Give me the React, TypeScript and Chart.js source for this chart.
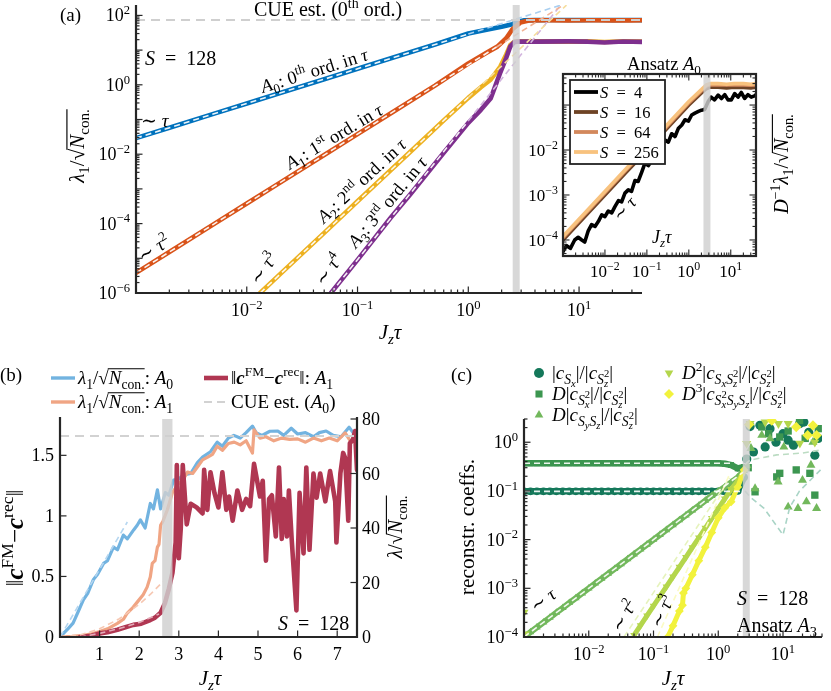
"use client"

import { useEffect, useRef } from "react"
import { Chart, registerables } from "chart.js"
import { drawPoint } from "chart.js/helpers"

Chart.register(...registerables)

const W = 831
const H = 691
const FONT = '"Liberation Serif", "DejaVu Serif", serif'
const AXIS = "#262626"
const BAND = [2.58, 2.84]

// ---------- panel (a): lambda_1 / sqrt(N_con) vs J_z tau ----------
const A_BLUE_X = [0.001, 0.002, 0.005, 0.01, 0.02, 0.05, 0.1, 0.2, 0.5, 1, 1.5, 2, 2.5, 2.8, 3.2, 4, 6, 10, 15, 20, 30, 37]
const A_BLUE_Y = [0.029, 0.058, 0.145, 0.29, 0.58, 1.45, 2.9, 5.8, 14.5, 30, 39, 47, 56, 66, 72, 73, 73.5, 73, 73.8, 73, 73.5, 73]
const A_RED_X = [0.001, 0.002, 0.005, 0.01, 0.02, 0.05, 0.1, 0.2, 0.5, 1, 1.5, 1.83, 2.2, 2.5, 2.95, 3.6, 5, 8, 12, 20, 30, 37]
const A_RED_Y = [3.8e-6, 1.52e-5, 9.5e-5, 3.8e-4, 1.52e-3, 9.5e-3, 0.038, 0.152, 0.95, 4.1, 8.8, 12.6, 22, 40, 62, 72, 72.5, 71.5, 72.5, 72, 71.8, 72.3]
const A_YEL_X = [0.0132, 0.02, 0.05, 0.1, 0.2, 0.3, 0.6, 1, 1.3, 1.59, 1.94, 2.2, 2.39, 2.6, 2.8, 4, 8, 12, 17, 25, 37]
const A_YEL_Y = [1e-6, 3.5e-6, 5.4e-5, 4.4e-4, 3.5e-3, 0.0118, 0.094, 0.42, 0.85, 1.4, 3.3, 7.5, 14, 17.5, 18, 17.8, 17.6, 17.9, 17.2, 17.8, 17.6]
const A_PUR_X = [0.0575, 0.1, 0.2, 0.3, 0.6, 1, 1.3, 1.59, 1.94, 2.2, 2.39, 2.6, 2.8, 4, 8, 12, 17, 25, 37]
const A_PUR_Y = [1e-6, 9e-6, 1.5e-4, 7e-4, 0.011, 0.08, 0.19, 0.4, 2.2, 6, 12.6, 17, 17.7, 17.6, 17.8, 17.5, 16.6, 17.7, 17.3]
// power-law fits: [start, end of white part, end of pale extension]
const A_FIT_BLUE_X = [0.001, 1, 6.9]
const A_FIT_BLUE_Y = [0.029, 29, 200]
const A_FIT_RED_X = [0.001, 1.8, 7.25]
const A_FIT_RED_Y = [3.8e-6, 12.3, 200]
const A_FIT_YEL_X = [0.0132, 1, 7.7]
const A_FIT_YEL_Y = [1e-6, 0.435, 198]
const A_FIT_PUR_X = [0.0575, 1, 6.8]
const A_FIT_PUR_Y = [1e-6, 0.0915, 196]
const A_CUE_X = [0.001, 37]
const A_CUE_Y = [74, 74]
const A_YEXP = [-6, -4, -2, 0, 2]
const A_XEXP = [-2, -1, 0, 1]

// ---------- inset: S dependence ----------
const IN_X = [0.001, 0.003, 0.01, 0.03, 0.1, 0.3, 1, 2, 2.6, 3.2, 5, 8, 12, 20, 30, 40]
const IN_S256 = [1.2e-4, 3.6e-4, 1.2e-3, 3.6e-3, 0.012, 0.036, 0.12, 0.22, 0.28, 0.3, 0.3, 0.29, 0.3, 0.3, 0.29, 0.3]
const IN_S64 = [1.12e-4, 3.35e-4, 1.12e-3, 3.35e-3, 0.0112, 0.0335, 0.112, 0.205, 0.265, 0.285, 0.28, 0.28, 0.285, 0.28, 0.275, 0.28]
const IN_S16 = [1.0e-4, 3.0e-4, 1.0e-3, 3.0e-3, 0.0098, 0.03, 0.1, 0.185, 0.23, 0.25, 0.25, 0.24, 0.25, 0.245, 0.24, 0.25]
const IN_S4_X = [0.001, 0.0012, 0.0015, 0.0019, 0.0023, 0.0028, 0.0033, 0.004, 0.0048, 0.0058, 0.007, 0.0084, 0.01, 0.012, 0.0145, 0.0173, 0.021, 0.025, 0.03, 0.036, 0.043, 0.052, 0.062, 0.075, 0.09, 0.108, 0.13, 0.156, 0.187, 0.225, 0.27, 0.325, 0.39, 0.47, 0.56, 0.68, 0.81, 0.98, 1.17, 1.4, 1.7, 2.0, 2.4, 2.9, 3.4, 4.1, 5, 6, 7.2, 8.6, 10.3, 12.4, 14.9, 17.8, 21.4, 25.7, 30.8, 37, 40]
const IN_S4_Y = [5.5e-5, 7.5e-5, 6.5e-5, 1.0e-4, 1.15e-4, 1.0e-4, 9e-5, 1.6e-4, 2.2e-4, 2.0e-4, 2.6e-4, 3.6e-4, 3.3e-4, 4.4e-4, 4.0e-4, 5.5e-4, 7.5e-4, 7.0e-4, 1.1e-3, 1.3e-3, 1.2e-3, 2.1e-3, 2.0e-3, 3.2e-3, 5.1e-3, 4.5e-3, 5.8e-3, 7.0e-3, 1.05e-2, 1.2e-2, 1.67e-2, 1.5e-2, 2.3e-2, 2.0e-2, 3.0e-2, 3.6e-2, 4.7e-2, 4.4e-2, 6.0e-2, 6.6e-2, 7.2e-2, 7.7e-2, 8.0e-2, 0.12, 0.15, 0.13, 0.166, 0.14, 0.17, 0.13, 0.13, 0.18, 0.15, 0.19, 0.14, 0.17, 0.15, 0.16, 0.17]
const IN_NAMES = ["4", "16", "64", "256"]
const IN_COLORS = ["#000000", "#6e4325", "#d3885c", "#f8c27e"]
const IN_YEXP = [-4, -3, -2]
const IN_XEXP = [-2, -1, 0, 1]

// ---------- panel (b): linear time axis ----------
const B_BLUE_X = [0, 0.1, 0.2, 0.33, 0.45, 0.59, 0.7, 0.84, 0.95, 1.1, 1.2, 1.35, 1.45, 1.6, 1.7, 1.86, 1.95, 2.03, 2.15, 2.28, 2.36, 2.46, 2.54, 2.66, 2.75, 2.87, 3.0, 3.12, 3.3, 3.47, 3.6, 3.8, 3.97, 4.1, 4.25, 4.39, 4.55, 4.7, 4.86, 4.95, 5.1, 5.3, 5.5, 5.65, 5.84, 6.0, 6.2, 6.4, 6.55, 6.72, 6.9, 7.1, 7.3, 7.45, 7.5]
const B_BLUE_Y = [0, 1.5, 3, 5.1, 9, 13.6, 16, 21, 23, 27, 28, 33, 32, 37.4, 36, 39.3, 41, 43, 40, 49, 47, 54, 47, 53, 52, 57.6, 58, 59.5, 60, 64, 66, 68, 71.5, 70, 73, 74, 73, 75, 77.4, 75, 74, 75.5, 75.6, 74, 76.6, 74.5, 75, 73.5, 75, 75.6, 74, 73.5, 77, 74, 75]
const B_ORG_X = [0, 0.3, 0.6, 0.8, 1.0, 1.2, 1.45, 1.6, 1.7, 1.85, 1.95, 2.1, 2.2, 2.28, 2.33, 2.4, 2.46, 2.5, 2.54, 2.6, 2.71, 2.84, 3.0, 3.1, 3.22, 3.35, 3.47, 3.6, 3.73, 3.85, 3.97, 4.1, 4.25, 4.4, 4.55, 4.7, 4.86, 4.9, 5.05, 5.2, 5.4, 5.6, 5.8, 6.0, 6.2, 6.4, 6.6, 6.8, 7.0, 7.2, 7.35, 7.5]
const B_ORG_Y = [0, 0.2, 0.6, 1.2, 2, 3, 5, 6.5, 8.8, 11, 12.8, 15.5, 18.3, 22, 27, 28, 33, 34, 41, 42.5, 46.6, 53, 56.5, 57.5, 60.5, 60, 62.4, 65, 66, 67, 70, 68.5, 71, 71.5, 70.5, 72, 67.5, 76, 73, 73.5, 72, 73, 72.5, 72.7, 71.5, 73, 72, 73, 72, 74.9, 71.5, 72.7]
const B_ERR_X = [0.5, 0.8, 1.0, 1.2, 1.45, 1.65, 1.85, 2.05, 2.28, 2.4, 2.54, 2.65, 2.75, 2.84, 2.92, 2.95, 3.0, 3.05, 3.1, 3.2, 3.3, 3.45, 3.6, 3.64, 3.72, 3.8, 3.9, 4.0, 4.1, 4.2, 4.27, 4.36, 4.48, 4.6, 4.7, 4.8, 4.9, 5.05, 5.12, 5.2, 5.28, 5.35, 5.45, 5.53, 5.6, 5.65, 5.73, 5.78, 5.85, 5.97, 6.05, 6.15, 6.22, 6.3, 6.4, 6.48, 6.57, 6.7, 6.82, 6.95, 6.98, 7.08, 7.15, 7.2, 7.28, 7.32, 7.4, 7.45, 7.5]
const B_ERR_Y = [0, 0.01, 0.03, 0.04, 0.06, 0.08, 0.1, 0.11, 0.14, 0.16, 0.2, 0.28, 0.4, 0.53, 0.78, 1.42, 0.65, 0.9, 1.42, 0.93, 1.1, 1.07, 1.02, 1.38, 1.05, 1.36, 1.19, 1.07, 1.36, 1.05, 1.16, 0.96, 1.21, 1.05, 1.14, 1.08, 1.43, 1.16, 1.29, 0.63, 1.14, 1.17, 0.83, 1.4, 0.81, 1.14, 0.83, 1.21, 0.81, 0.22, 1.19, 0.69, 1.4, 0.72, 1.35, 1.15, 1.35, 1.12, 1.37, 1.12, 0.78, 1.35, 1.52, 1.48, 0.96, 1.6, 1.63, 1.7, 1.38]
const B_FIT_BLUE_X = [0, 1.7]
const B_FIT_BLUE_Y = [0, 42.2]
const B_FIT_ORG_X = [0, 0.5, 1, 1.5, 2, 2.3, 2.6]
const B_FIT_ORG_Y = [0, 0.75, 3, 6.7, 12, 15.9, 20.3]
const B_FIT_ERR_X = [0.5, 1, 1.5, 2, 2.5]
const B_FIT_ERR_Y = [0, 0.03, 0.07, 0.12, 0.19]
const B_CUE_X = [0, 7.5]
const B_CUE_Y = [73.8, 73.8]
const B_LTICKS = [0, 0.5, 1, 1.5]
const B_RTICKS = [0, 20, 40, 60, 80]
const B_XTICKS = [1, 2, 3, 4, 5, 6, 7]

// ---------- panel (c): reconstructed coefficients ----------
const C_GRID = [0.001, 0.00126, 0.00158, 0.002, 0.00251, 0.00316, 0.00398, 0.00501, 0.00631, 0.00794, 0.01, 0.0126, 0.0158, 0.02, 0.0251, 0.0316, 0.0398, 0.0501, 0.0631, 0.0794, 0.1, 0.126, 0.158, 0.2, 0.251, 0.316, 0.398, 0.501, 0.631, 0.794, 1, 1.26, 1.58, 2, 2.51]
const C_SX_Y = [0.098, 0.098, 0.098, 0.098, 0.098, 0.098, 0.098, 0.098, 0.098, 0.098, 0.098, 0.098, 0.098, 0.098, 0.098, 0.098, 0.098, 0.098, 0.098, 0.098, 0.098, 0.098, 0.098, 0.098, 0.098, 0.098, 0.098, 0.098, 0.098, 0.098, 0.098, 0.097, 0.096, 0.1, 0.19]
const C_SX2_Y = [0.37, 0.37, 0.37, 0.37, 0.37, 0.37, 0.37, 0.37, 0.37, 0.37, 0.37, 0.37, 0.37, 0.37, 0.37, 0.37, 0.37, 0.37, 0.37, 0.37, 0.37, 0.37, 0.37, 0.37, 0.37, 0.37, 0.37, 0.37, 0.37, 0.37, 0.37, 0.36, 0.34, 0.29, 0.31]
const C_SYSZ_Y = [1e-4, 1.26e-4, 1.58e-4, 2e-4, 2.51e-4, 3.16e-4, 3.98e-4, 5.01e-4, 6.31e-4, 7.94e-4, 1e-3, 1.26e-3, 1.58e-3, 2e-3, 2.51e-3, 3.16e-3, 3.98e-3, 5.01e-3, 6.31e-3, 7.94e-3, 0.01, 0.0126, 0.0158, 0.02, 0.0251, 0.0316, 0.0398, 0.0501, 0.0631, 0.0794, 0.098, 0.12, 0.15, 0.19, 0.26]
const C_D2_X = [0.0501, 0.0631, 0.0794, 0.1, 0.126, 0.158, 0.2, 0.251, 0.316, 0.398, 0.501, 0.631, 0.794, 1, 1.26, 1.58, 2, 2.51]
const C_D2_Y = [1.09e-4, 1.73e-4, 2.74e-4, 4.34e-4, 6.9e-4, 1.08e-3, 1.74e-3, 2.73e-3, 4.33e-3, 6.9e-3, 0.0109, 0.0173, 0.0274, 0.0434, 0.069, 0.108, 0.16, 0.25]
const C_D3_X = [0.166, 0.2, 0.251, 0.28, 0.29, 0.316, 0.398, 0.501, 0.631, 0.794, 1, 1.26, 1.58, 2, 2.51]
const C_D3_Y = [1e-4, 1.7e-4, 3.4e-4, 4.5e-4, 8e-4, 1e-3, 1.9e-3, 3.7e-3, 7e-3, 0.014, 0.028, 0.045, 0.06, 0.12, 0.27]
// scattered values after the band
const C_SX_PX = [2.75, 3.1, 3.5, 4.4, 5.3, 6.3, 7.8, 10, 12, 14.5, 18, 21, 25, 31, 35]
const C_SX_PY = [0.45, 2.1, 0.63, 2.23, 0.8, 1.9, 1.0, 1.5, 1.1, 0.87, 2.4, 2.6, 1.6, 0.54, 1.2]
const C_SX2_PX = [2.9, 3.7, 4.7, 6, 8, 8.9, 8.9, 12, 16, 18, 22, 26, 31, 35]
const C_SX2_PY = [0.3, 0.096, 2.06, 1.5, 0.194, 1.28, 0.23, 1.7, 0.27, 2.8, 1.2, 0.23, 0.082, 1.9]
const C_SYSZ_PX = [2.8, 3.2, 3.7, 4.7, 6.3, 8.4, 10.3, 12, 17, 20, 23, 27, 29, 33]
const C_SYSZ_PY = [0.33, 0.75, 0.112, 1.39, 1.19, 0.154, 0.8, 0.047, 0.044, 0.166, 0.06, 0.34, 1.0, 0.044]
const C_D2_PX = [0.001, 0.00105, 2.75, 3.1, 5.3, 8.5, 12, 18.2, 31]
const C_D2_PY = [3.2e-4, 1.15e-4, 0.94, 2.4, 2.6, 2.4, 2.4, 0.95, 1.0]
const C_D3_PX = [3.0, 6.7, 16, 24, 29, 33]
const C_D3_PY = [2.3, 2.8, 2.06, 1.39, 2.2, 1.39]
// fits
const C_FIT_SX_X = [0.001, 2.3]
const C_FIT_SX_Y = [0.098, 0.098]
const C_FIT_SX2_X = [0.001, 1.6]
const C_FIT_SX2_Y = [0.37, 0.37]
const C_FIT_T1_X = [0.001, 2.5]
const C_FIT_T1_Y = [1e-4, 0.25]
const C_FIT_T2_X = [0.035, 1.5]
const C_FIT_T2_Y = [1e-4, 0.184]
const C_FIT_T3_X = [0.115, 1.5]
const C_FIT_T3_Y = [1e-4, 0.222]
const C_PALE1_X = [2.6, 3.1, 5.1, 10, 12.7, 18, 38]
const C_PALE1_Y = [0.1, 0.075, 0.044, 0.0125, 0.046, 0.1, 0.27]
const C_PALE2_X = [2.6, 3.1, 8, 20, 38]
const C_PALE2_Y = [0.35, 0.43, 0.55, 0.6, 0.69]
const C_COLORS = ["#14785a", "#3c9650", "#72b85c", "#b4d64c", "#f2f23c"]
const C_STYLES = ["circle", "rect", "triangle", "triangle", "rectRot"]
const C_ROT = [0, 0, 0, 180, 0]
const C_YEXP = [-4, -3, -2, -1, 0]
const C_XEXP = [-2, -1, 0, 1]

// ---------- small rich-text renderer (sub/superscripts, overline) ----------
type Run = [string, string?]
const LV: Record<string, [number, number]> = {
  "": [1, 0],
  "^": [0.7, -0.4],
  "_": [0.72, 0.24],
  "=": [0.56, 0.4],
  "~": [0.56, -0.08],
}

function rich(ctx: CanvasRenderingContext2D, runs: Run[], x: number, y: number, size: number, align = "left", rot = 0, mid = false) {
  const items: any[] = []
  let cx = 0
  let ps = 0
  let pw = 0
  for (const [t, f = ""] of runs) {
    const lv = f.includes("^") ? "^" : f.includes("_") ? "_" : f.includes("=") ? "=" : f.includes("~") ? "~" : ""
    const [sc, dy] = LV[lv]
    const font = `${f.includes("i") ? "italic " : ""}${f.includes("B") ? "bold " : ""}${(size * sc).toFixed(1)}px ${FONT}`
    ctx.font = font
    const w = ctx.measureText(t).width
    const stack = f.includes("!")
    const sx = stack ? ps : cx
    items.push({ t, font, x: sx, dy: dy * size, w, over: f.includes("o") })
    if (stack) {
      cx = ps + Math.max(pw, w)
    } else {
      ps = sx
      pw = w
      cx = sx + w
    }
  }
  const off = align === "center" ? -cx / 2 : align === "right" ? -cx : 0
  ctx.save()
  ctx.translate(x, y)
  if (rot) ctx.rotate((rot * Math.PI) / 180)
  const by = mid ? size * 0.32 : 0
  ctx.fillStyle = "#000"
  ctx.strokeStyle = "#000"
  ctx.textAlign = "left"
  ctx.textBaseline = "alphabetic"
  let o0 = Infinity
  let o1 = -Infinity
  for (const it of items) {
    ctx.font = it.font
    ctx.fillText(it.t, off + it.x, by + it.dy)
    if (it.over) {
      o0 = Math.min(o0, off + it.x)
      o1 = Math.max(o1, off + it.x + it.w)
    }
  }
  if (o1 > o0) {
    ctx.lineWidth = Math.max(1, size * 0.055)
    ctx.beginPath()
    ctx.moveTo(o0 - 1, by - size * 0.8)
    ctx.lineTo(o1, by - size * 0.8)
    ctx.stroke()
  }
  ctx.restore()
}

const pow10 = (e: number): Run[] => [["10"], [e < 0 ? "\u2212" + -e : String(e), "^"]]
const SQN: Run[] = [["/\u221A"], ["N", "io"], ["con.", "_o"]]
const LAM1: Run[] = [["\u03BB", "i"], ["1", "_"], ...SQN]
const NORM: Run[] = [["\u2016"], ["c", "iB"], ["FM", "^"], ["\u2212"], ["c", "iB"], ["rec", "^"], ["\u2016"]]
const JZT: Run[] = [["J", "i"], ["z", "i_"], ["\u03C4", "i"]]
const cal = (s: string): Run => [s, "i"]
const SZ2: Run[] = [["|/|"], ["c", "i"], ["S", "i_"], ["z", "i="], ["2", "~!"], ["|"]]
const sRuns = (n: string): Run[] => [["S", "i"], ["\u2002=\u2002" + n]]
const ord = (k: string, sup: string): Run[] => [cal("A"), [k, "_"], [": " + k], [sup, "^"], [" ord. in "], ["\u03C4", "i"]]
const tauPow = (p: string): Run[] => (p ? [["\u223C "], ["\u03C4", "i"], [p, "^"]] : [["\u223C "], ["\u03C4", "i"]])

// ---------- drawing helpers ----------
function seg(ctx: CanvasRenderingContext2D, x1: number, y1: number, x2: number, y2: number) {
  ctx.beginPath()
  ctx.moveTo(x1, y1)
  ctx.lineTo(x2, y2)
  ctx.stroke()
}

function logTicks(ctx: CanvasRenderingContext2D, scale: any, horiz: boolean, base: number, dir: number) {
  const min = scale.min
  const max = scale.max
  for (let k = Math.floor(Math.log10(min)); k <= Math.ceil(Math.log10(max)); k++) {
    for (let m = 1; m <= 9; m++) {
      const v = m * Math.pow(10, k)
      if (v < min * 0.9999 || v > max * 1.0001) continue
      const p = scale.getPixelForValue(v)
      const len = m === 1 ? 6.5 : 3.5
      if (horiz) seg(ctx, p, base, p, base + dir * len)
      else seg(ctx, base, p, base + dir * len, p)
    }
  }
}

function linTicks(ctx: CanvasRenderingContext2D, scale: any, vals: number[], horiz: boolean, base: number, dir: number) {
  for (const v of vals) {
    const p = scale.getPixelForValue(v)
    if (horiz) seg(ctx, p, base, p, base + dir * 6.5)
    else seg(ctx, base, p, base + dir * 6.5, p)
  }
}

function drawBand(chart: any) {
  const { ctx, chartArea: ca, scales } = chart
  const a = scales.x.getPixelForValue(BAND[0])
  const b = scales.x.getPixelForValue(BAND[1])
  const c = (a + b) / 2
  const w = Math.max(b - a, 7)
  ctx.save()
  ctx.fillStyle = "rgba(208,208,208,0.82)"
  ctx.fillRect(c - w / 2, ca.top, w, ca.bottom - ca.top)
  ctx.restore()
}

const xy = (xs: number[], ys: number[]) => xs.map((x, i) => ({ x, y: ys[i] }))

function ln(xs: number[], ys: number[], color: string, width: number, order: number, extra: any = {}) {
  return {
    data: xy(xs, ys),
    borderColor: color,
    borderWidth: width,
    pointRadius: 0,
    fill: false,
    tension: 0,
    order,
    borderJoinStyle: "round",
    borderCapStyle: "round",
    ...extra,
  }
}

function dash(xs: number[], ys: number[], color: string, width: number, order: number, d = [6, 4], extra: any = {}) {
  return ln(xs, ys, color, width, order, { borderDash: d, borderCapStyle: "butt", ...extra })
}

function marks(xs: number[], ys: number[], idx: number, order: number, line = 0, r = 3.6) {
  return {
    data: xy(xs, ys),
    showLine: line > 0,
    borderColor: C_COLORS[idx],
    borderWidth: line,
    pointRadius: r,
    pointStyle: C_STYLES[idx],
    pointRotation: C_ROT[idx],
    pointBackgroundColor: C_COLORS[idx],
    pointBorderColor: C_COLORS[idx],
    pointBorderWidth: 0,
    fill: false,
    tension: 0,
    order,
  }
}

function base(area: any, scales: any, datasets: any[], plugin: any) {
  return {
    type: "line",
    data: { datasets },
    options: {
      responsive: false,
      animation: false,
      events: [],
      layout: { padding: { left: area.l, top: area.t, right: W - area.r, bottom: H - area.b } },
      plugins: { legend: { display: false }, tooltip: { enabled: false } },
      scales,
    },
    plugins: [plugin],
  }
}

const logAxis = (min: number, max: number) => ({ type: "logarithmic", min, max, display: false, bounds: "data" })
const linAxis = (min: number, max: number, extra: any = {}) => ({ type: "linear", min, max, display: false, bounds: "data", ...extra })

// ---------- panel (a) ----------
function configA() {
  const WHITE = "rgba(255,255,255,0.92)"
  const datasets = [
    dash(A_CUE_X, A_CUE_Y, "#cfcfcf", 2, 0, [9, 6]),
    dash(A_FIT_BLUE_X.slice(0, 2), A_FIT_BLUE_Y.slice(0, 2), WHITE, 1.6, 1),
    dash(A_FIT_RED_X.slice(0, 2), A_FIT_RED_Y.slice(0, 2), WHITE, 1.6, 1),
    dash(A_FIT_YEL_X.slice(0, 2), A_FIT_YEL_Y.slice(0, 2), WHITE, 1.6, 1),
    dash(A_FIT_PUR_X.slice(0, 2), A_FIT_PUR_Y.slice(0, 2), WHITE, 1.6, 1),
    dash(A_FIT_BLUE_X.slice(1), A_FIT_BLUE_Y.slice(1), "#a9cff0", 1.6, 1),
    dash(A_FIT_RED_X.slice(1), A_FIT_RED_Y.slice(1), "#f2b496", 1.6, 1),
    dash(A_FIT_YEL_X.slice(1), A_FIT_YEL_Y.slice(1), "#f6de9e", 1.6, 1),
    dash(A_FIT_PUR_X.slice(1), A_FIT_PUR_Y.slice(1), "#d2b4de", 1.6, 1),
    ln(A_PUR_X, A_PUR_Y, "#7e2f8e", 4.6, 2),
    ln(A_YEL_X, A_YEL_Y, "#edb120", 4.6, 3),
    ln(A_RED_X, A_RED_Y, "#d95319", 4.6, 4),
    ln(A_BLUE_X, A_BLUE_Y, "#0072bd", 4.6, 5),
  ]
  const plugin = {
    id: "decoA",
    afterDatasetsDraw: drawBand,
    afterDraw(chart: any) {
      const { ctx, chartArea: ca, scales } = chart
      const { x, y } = scales
      ctx.save()
      ctx.strokeStyle = AXIS
      ctx.lineWidth = 2.2
      seg(ctx, ca.left, ca.top, ca.left, ca.bottom + 1)
      seg(ctx, ca.left - 1, ca.bottom, ca.right, ca.bottom)
      ctx.lineWidth = 1.2
      logTicks(ctx, y, false, ca.left, 1)
      logTicks(ctx, x, true, ca.bottom, -1)
      ctx.restore()
      for (const e of A_YEXP) rich(ctx, pow10(e), ca.left - 6, y.getPixelForValue(Math.pow(10, e)) + 6, 18, "right")
      for (const e of A_XEXP) rich(ctx, pow10(e), x.getPixelForValue(Math.pow(10, e)), ca.bottom + 23, 18, "center")
      rich(ctx, [["(a)"]], 60, 21, 19)
      rich(ctx, [["CUE est. (0"], ["th", "^"], [" ord.)"]], 328, 16, 20, "center")
      rich(ctx, sRuns("128"), 145, 65, 20)
      rich(ctx, tauPow(""), 141, 127, 19)
      rich(ctx, ord("0", "th"), 263, 93, 18.5, "left", -17.4)
      rich(ctx, ord("1", "st"), 290, 170, 18.5, "left", -31)
      rich(ctx, ord("2", "nd"), 324, 224, 18.5, "left", -43)
      rich(ctx, ord("3", "rd"), 356, 249, 18.5, "left", -50)
      rich(ctx, tauPow("2"), 143, 263, 19, "left", -33)
      rich(ctx, tauPow("3"), 259, 286, 19, "left", -55)
      rich(ctx, tauPow("4"), 324, 287, 19, "left", -55)
      rich(ctx, [["\u03BB", "i"], ["1", "_"], ...SQN], 77, 146, 21, "center", -90, true)
      rich(ctx, JZT, 390, 339, 21, "center")
    },
  }
  return base({ l: 136, t: 5, r: 642, b: 293 }, { x: logAxis(1e-3, 37), y: logAxis(1e-6, 199.5) }, datasets, plugin)
}

// ---------- inset ----------
function configInset() {
  const datasets = [
    ln(IN_X, IN_S256, IN_COLORS[3], 3.6, 0),
    ln(IN_X, IN_S64, IN_COLORS[2], 3.6, 1),
    ln(IN_X, IN_S16, IN_COLORS[1], 3.6, 2),
    ln(IN_S4_X, IN_S4_Y, IN_COLORS[0], 3.6, 3),
  ]
  const plugin = {
    id: "decoIn",
    beforeDatasetsDraw(chart: any) {
      const { ctx, chartArea: ca } = chart
      ctx.save()
      ctx.fillStyle = "#fff"
      ctx.fillRect(ca.left, ca.top, ca.right - ca.left, ca.bottom - ca.top)
      ctx.restore()
    },
    afterDatasetsDraw: drawBand,
    afterDraw(chart: any) {
      const { ctx, chartArea: ca, scales } = chart
      const { x, y } = scales
      ctx.save()
      ctx.strokeStyle = AXIS
      ctx.lineWidth = 1.1
      logTicks(ctx, y, false, ca.left, 1)
      logTicks(ctx, y, false, ca.right, -1)
      logTicks(ctx, x, true, ca.bottom, -1)
      logTicks(ctx, x, true, ca.top, 1)
      ctx.lineWidth = 2.2
      ctx.strokeRect(ca.left, ca.top, ca.right - ca.left, ca.bottom - ca.top)
      // legend
      const lx = 570
      const ly = 80
      ctx.fillStyle = "#fff"
      ctx.fillRect(lx, ly, 95, 84)
      ctx.lineWidth = 1.8
      ctx.strokeStyle = "#222"
      ctx.strokeRect(lx, ly, 95, 84)
      IN_NAMES.forEach((_, i) => {
        ctx.strokeStyle = IN_COLORS[i]
        ctx.lineWidth = 3.8
        seg(ctx, lx + 4, ly + 12 + i * 20, lx + 28, ly + 12 + i * 20)
      })
      ctx.restore()
      IN_NAMES.forEach((n, i) => rich(ctx, sRuns(n), lx + 30, ly + 18 + i * 20, 16.5))
      for (const e of IN_YEXP) rich(ctx, pow10(e), ca.left - 5, y.getPixelForValue(Math.pow(10, e)) + 6, 17, "right")
      for (const e of IN_XEXP) rich(ctx, pow10(e), x.getPixelForValue(Math.pow(10, e)), ca.bottom + 21, 17, "center")
      rich(ctx, [["Ansatz "], cal("A"), ["0", "_"]], 664, 70, 18.5, "center")
      rich(ctx, tauPow(""), 620, 222, 17.5, "left", -47)
      rich(ctx, JZT, 652, 243, 18)
      rich(ctx, [cal("D"), ["\u22121", "^"], ...LAM1], 782, 164, 20, "center", -90, true)
    },
  }
  return base({ l: 563, t: 74, r: 756, b: 256 }, { x: logAxis(1e-3, 40), y: logAxis(4.4e-5, 0.49) }, datasets, plugin)
}

// ---------- panel (b) ----------
function configB() {
  const BLUE = "#72b3e0"
  const ORG = "#f0a584"
  const ERR = "#b03752"
  const datasets = [
    dash(B_CUE_X, B_CUE_Y, "#d2d2d2", 2, 0, [9, 6], { yAxisID: "y2" }),
    dash(B_FIT_BLUE_X, B_FIT_BLUE_Y, "#b5d6f0", 1.6, 1, [6, 4], { yAxisID: "y2" }),
    dash(B_FIT_ORG_X, B_FIT_ORG_Y, "#f6c7b2", 1.6, 1, [6, 4], { yAxisID: "y2" }),
    dash(B_FIT_ERR_X, B_FIT_ERR_Y, "#e3aab7", 1.6, 1, [6, 4], { yAxisID: "y" }),
    ln(B_ERR_X, B_ERR_Y, ERR, 4.6, 2, { yAxisID: "y" }),
    ln(B_ORG_X, B_ORG_Y, ORG, 3.2, 3, { yAxisID: "y2" }),
    ln(B_BLUE_X, B_BLUE_Y, BLUE, 3.2, 4, { yAxisID: "y2" }),
  ]
  const plugin = {
    id: "decoB",
    afterDatasetsDraw: drawBand,
    afterDraw(chart: any) {
      const { ctx, chartArea: ca, scales } = chart
      const { x, y, y2 } = scales
      ctx.save()
      ctx.strokeStyle = AXIS
      ctx.lineWidth = 2.2
      seg(ctx, ca.left, ca.top - 2, ca.left, ca.bottom + 1)
      seg(ctx, ca.right, ca.top - 2, ca.right, ca.bottom + 1)
      seg(ctx, ca.left - 1, ca.bottom, ca.right + 1, ca.bottom)
      ctx.lineWidth = 1.2
      linTicks(ctx, y, B_LTICKS, false, ca.left, 1)
      linTicks(ctx, y2, B_RTICKS, false, ca.right, -1)
      linTicks(ctx, x, B_XTICKS, true, ca.bottom, -1)
      // legend samples
      ctx.lineCap = "butt"
      ctx.lineWidth = 3.4
      ctx.strokeStyle = BLUE
      seg(ctx, 51, 378, 75, 378)
      ctx.strokeStyle = ORG
      seg(ctx, 51, 402, 75, 402)
      ctx.lineWidth = 4.6
      ctx.strokeStyle = ERR
      seg(ctx, 204, 378, 228, 378)
      ctx.lineWidth = 2
      ctx.strokeStyle = "#d2d2d2"
      ctx.setLineDash([8, 5])
      seg(ctx, 204, 402, 228, 402)
      ctx.setLineDash([])
      ctx.restore()
      for (const v of B_LTICKS) rich(ctx, [[String(v)]], ca.left - 6, y.getPixelForValue(v) + 6, 18, "right")
      for (const v of B_RTICKS) rich(ctx, [[String(v)]], ca.right + 5, y2.getPixelForValue(v) + 6, 18)
      for (const v of B_XTICKS) rich(ctx, [[String(v)]], x.getPixelForValue(v), ca.bottom + 23, 18, "center")
      rich(ctx, [...LAM1, [": "], cal("A"), ["0", "_"]], 78, 384, 19)
      rich(ctx, [...LAM1, [": "], cal("A"), ["1", "_"]], 78, 408, 19)
      rich(ctx, [...NORM, [": "], cal("A"), ["1", "_"]], 231, 384, 19)
      rich(ctx, [["CUE est. ("], cal("A"), ["0", "_"], [")"]], 231, 408, 19)
      rich(ctx, [["(b)"]], 0, 381, 19)
      rich(ctx, sRuns("128"), 278, 630, 20)
      rich(ctx, NORM, 15, 538, 25, "center", -90, true)
      rich(ctx, [["\u03BB", "i"], ...SQN], 396, 527, 20, "center", -90, true)
      rich(ctx, JZT, 210, 685, 21, "center")
    },
  }
  return base(
    { l: 60, t: 419, r: 357, b: 637 },
    { x: linAxis(0, 7.5), y: linAxis(0, 1.8), y2: linAxis(0, 80, { position: "right" }) },
    datasets,
    plugin,
  )
}

// ---------- panel (c) ----------
function configC() {
  const WHITE = "rgba(255,255,255,0.9)"
  const datasets = [
    dash(C_FIT_SX_X, C_FIT_SX_Y, WHITE, 1.6, 0),
    dash(C_FIT_SX2_X, C_FIT_SX2_Y, WHITE, 1.6, 0),
    dash(C_FIT_T1_X, C_FIT_T1_Y, WHITE, 1.6, 0),
    dash(C_FIT_T2_X, C_FIT_T2_Y, "#e6f3bd", 1.6, 0),
    dash(C_FIT_T3_X, C_FIT_T3_Y, "#fbfbc4", 1.6, 0),
    dash(C_PALE1_X, C_PALE1_Y, "#a9d4c6", 1.6, 0),
    dash(C_PALE2_X, C_PALE2_Y, "#bcdcc3", 1.6, 0),
    marks(C_D3_PX, C_D3_PY, 4, 1, 0, 5.2),
    marks(C_D3_X, C_D3_Y, 4, 1, 5, 4.4),
    marks(C_D2_PX, C_D2_PY, 3, 2, 0, 5.2),
    marks(C_D2_X, C_D2_Y, 3, 2, 5, 4.4),
    marks(C_SYSZ_PX, C_SYSZ_PY, 2, 3, 0, 5.2),
    marks(C_GRID, C_SYSZ_Y, 2, 3, 6, 4.4),
    marks(C_SX2_PX, C_SX2_PY, 1, 4, 0, 5.2),
    marks(C_GRID, C_SX2_Y, 1, 4, 6.5, 4.2),
    marks(C_SX_PX, C_SX_PY, 0, 5, 0, 4.6),
    marks(C_GRID, C_SX_Y, 0, 5, 6.5, 3.8),
  ]
  const plugin = {
    id: "decoC",
    afterDatasetsDraw: drawBand,
    afterDraw(chart: any) {
      const { ctx, chartArea: ca, scales } = chart
      const { x, y } = scales
      ctx.save()
      ctx.strokeStyle = AXIS
      ctx.lineWidth = 2.2
      seg(ctx, ca.left, ca.top, ca.left, ca.bottom + 1)
      seg(ctx, ca.left - 1, ca.bottom, ca.right, ca.bottom)
      ctx.lineWidth = 1.2
      logTicks(ctx, y, false, ca.left, 1)
      logTicks(ctx, x, true, ca.bottom, -1)
      // legend markers
      const pos = [
        [539, 373],
        [539, 394],
        [539, 415],
        [669, 373],
        [669, 394],
      ]
      pos.forEach(([px, py], i) => {
        ctx.fillStyle = C_COLORS[i]
        ctx.strokeStyle = C_COLORS[i]
        drawPoint(ctx, { pointStyle: C_STYLES[i], rotation: C_ROT[i], radius: 5, borderWidth: 0 } as any, px, py)
      })
      ctx.restore()
      for (const e of C_YEXP) rich(ctx, pow10(e), ca.left - 6, y.getPixelForValue(Math.pow(10, e)) + 6, 18, "right")
      for (const e of C_XEXP) rich(ctx, pow10(e), x.getPixelForValue(Math.pow(10, e)), ca.bottom + 23, 18, "center")
      const c = (s: Run[]): Run[] => [["c", "i"], ...s]
      const L: Run[][] = [
        [["|"], ...c([["S", "i_"], ["x", "i="]]), ...SZ2],
        [cal("D"), ["|"], ...c([["S", "i_"], ["x", "i="], ["2", "~!"]]), ...SZ2],
        [cal("D"), ["|"], ...c([["S", "i_"], ["y", "i="], ["S", "i_"], ["z", "i="]]), ...SZ2],
        [cal("D"), ["2", "^"], ["|"], ...c([["S", "i_"], ["x", "i="], ["S", "i_"], ["z", "i="], ["2", "~!"]]), ...SZ2],
        [cal("D"), ["3", "^"], ["|"], ...c([["S", "i_"], ["x", "i="], ["2", "~!"], ["S", "i_"], ["y", "i="], ["S", "i_"], ["z", "i="]]), ...SZ2],
      ]
      pos.forEach(([px, py], i) => rich(ctx, L[i], px + 13, py + 6, 19))
      rich(ctx, [["(c)"]], 451, 381, 19)
      rich(ctx, sRuns("128"), 737, 605, 20)
      rich(ctx, [["Ansatz "], cal("A"), ["3", "_"]], 737, 632, 20)
      rich(ctx, tauPow(""), 536, 613, 18.5, "left", -37)
      rich(ctx, tauPow("2"), 621, 633, 18.5, "left", -60)
      rich(ctx, tauPow("3"), 661, 629, 18.5, "left", -66)
      rich(ctx, [["reconstr. coeffs."]], 467, 527, 21.5, "center", -90, true)
      rich(ctx, JZT, 673, 685, 21, "center")
    },
  }
  return base({ l: 524, t: 419, r: 822, b: 637 }, { x: logAxis(1e-3, 40), y: logAxis(1e-4, 3) }, datasets, plugin)
}

function Panel({ build }: { build: () => any }) {
  const ref = useRef<HTMLCanvasElement | null>(null)

  useEffect(() => {
    if (!ref.current) return
    const chart = new Chart(ref.current, build())
    return () => chart.destroy()
  }, [build])

  return <canvas ref={ref} width={W} height={H} style={{ position: "absolute", left: 0, top: 0 }} />
}

export default function App() {
  return (
    <div style={{ position: "absolute", left: 0, top: 0, width: W, height: H, background: "#fff", overflow: "hidden" }}>
      <Panel build={configA} />
      <Panel build={configInset} />
      <Panel build={configB} />
      <Panel build={configC} />
    </div>
  )
}
